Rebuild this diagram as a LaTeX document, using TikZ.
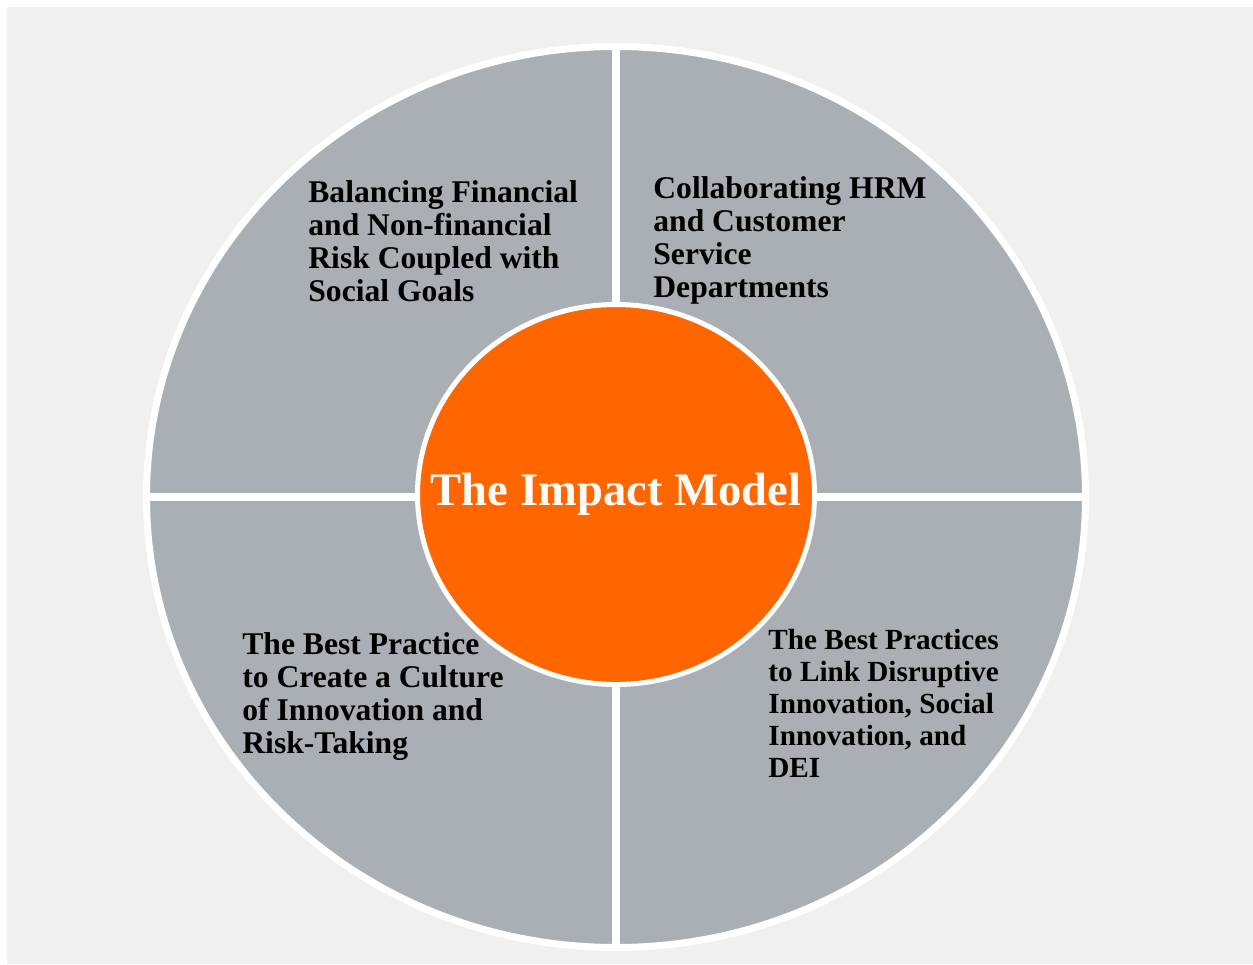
\documentclass[tikz,border=0pt]{standalone}
\usepackage{fontspec}
\setmainfont{Liberation Serif}
\usetikzlibrary{shapes.geometric}
\definecolor{panelgray}{HTML}{F0F0F0}
\definecolor{slicegray}{HTML}{A9AFB5}
\definecolor{huborange}{HTML}{FF6600}
\tikzset{quarter text/.style={anchor=base west, align=left, inner sep=0pt,
                              font=\bfseries\fontsize{15.8}{16.5}\selectfont}}
\tikzset{divider/.style={draw=white, line width=4.25pt}}

\begin{document}
\begin{tikzpicture}
    [
      x=0.5pt, y=-0.5pt,
      wheel/.style = {ellipse, fill=slicegray, draw=white, line width=3.5pt, inner sep=0pt},
      hub/.style = {ellipse, fill=huborange, draw=white, line width=2.5pt, inner sep=0pt},
      title/.style = {inner sep=0pt, text=white!97!orange, font=\bfseries\fontsize{23.3}{26}\selectfont},
    ]
    \useasboundingbox (0,0) rectangle (1253,964);
    \fill[panelgray] (7,7) rectangle (1253,964);

    % outer wheel
    \node [wheel, minimum width=469.5pt, minimum height=450.5pt] (wheel) at (616,497) {};

    % quarter dividers
    \draw [divider] (wheel.north) -- (wheel.south);
    \draw [divider] (wheel.west) -- (wheel.east);

    % centre
    \node [hub, minimum width=198.5pt, minimum height=190pt] (hub) at (616,494.5) {};
    \node [title] (title) at (hub.center) {The Impact Model};

    % quarters (anchored on the last line)
    \node [quarter text] (riskgoals) at (308,301)
      {Balancing Financial\\and Non-financial\\Risk Coupled with\\Social Goals};
    \node [quarter text] (hrmservice) at (653,297)
      {Collaborating HRM\\and Customer\\Service\\Departments};
    \node [quarter text] (culture) at (242,753)
      {The Best Practice\\to Create a Culture\\of Innovation and\\Risk-Taking};
    \node [quarter text, font=\bfseries\fontsize{14.6}{16}\selectfont] (innovation) at (768,777)
      {The Best Practices\\to Link Disruptive\\Innovation, Social\\Innovation, and\\DEI};

  \end{tikzpicture}
\end{document}
